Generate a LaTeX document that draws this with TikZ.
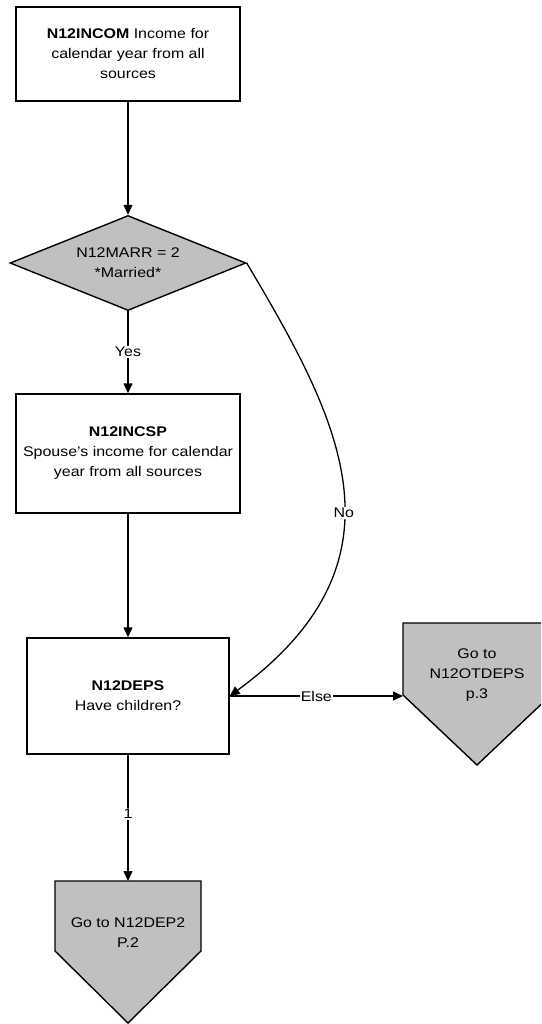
\documentclass[tikz,border=0pt]{standalone}
\usepackage{fontspec}
\setmainfont{Liberation Sans}[FakeStretch=1.14]
\usetikzlibrary{shapes.geometric,arrows.meta}
\definecolor{gofill}{RGB}{192,192,192}
\tikzset{
  txt/.style={font=\fontsize{14}{20}\selectfont, align=center, inner sep=0pt},
  procbox/.style={txt, draw=black, line width=1.4pt, rectangle},
  decbox/.style={txt, draw=black, line width=1.4pt, fill=gofill, diamond, aspect=2.5},
  gobox/.style={draw=black, line width=1.4pt, fill=gofill, line join=miter},
  conn/.style={draw=black, line width=1.3pt, -{Triangle[length=10pt,width=9pt]}},
  lbl/.style={txt, fill=white, inner sep=1pt}
}
\begin{document}
\begin{tikzpicture}[x=1pt,y=-1pt]
\useasboundingbox (0,0) rectangle (541,1024);
\clip (0,0) rectangle (541,1024);
% nodes
\node[procbox, minimum width=224pt, minimum height=94pt] (incom) at (128,54)
  {\textbf{N12INCOM} Income for\\calendar year from all\\sources};
\node[decbox, minimum width=236pt, minimum height=95pt] (marr) at (128,263)
  {N12MARR = 2\\*Married*};
\node[procbox, minimum width=224pt, minimum height=119pt] (incsp) at (128,453.5)
  {\textbf{N12INCSP}\\Spouse's income for calendar\\year from all sources};
\node[procbox, minimum width=202pt, minimum height=116pt] (deps) at (128,696)
  {\textbf{N12DEPS}\\Have children?};
% go-to pentagons
\draw[gobox] (403,623) -- (551,623) -- (551,695) -- (477,765) -- (403,695) -- cycle;
\coordinate (otin) at (403,696);
\node[txt] (otdeps) at (477,675) {Go to\\N12OTDEPS\\p.3};
\draw[gobox] (55,881) -- (201,881) -- (201,951) -- (128,1023) -- (55,951) -- cycle;
\coordinate (dep2in) at (128,881);
\node[txt] (dep2) at (128,933) {Go to N12DEP2\\P.2};
% connectors
\draw[conn] (incom.south) -- (marr.north);
\draw[conn] (marr.south) -- node[lbl, pos=0.5] {Yes} (incsp.north);
\draw[conn] (incsp.south) -- (deps.north);
\draw[conn] (marr.east) .. controls (340,420) and (415,560) .. node[lbl, pos=0.56] {No} (deps.east);
\draw[conn] (deps.east) -- node[lbl, pos=0.5] {Else} (otin);
\draw[conn] (deps.south) -- node[lbl, pos=0.47] {1} (dep2in);
\end{tikzpicture}
\end{document}
